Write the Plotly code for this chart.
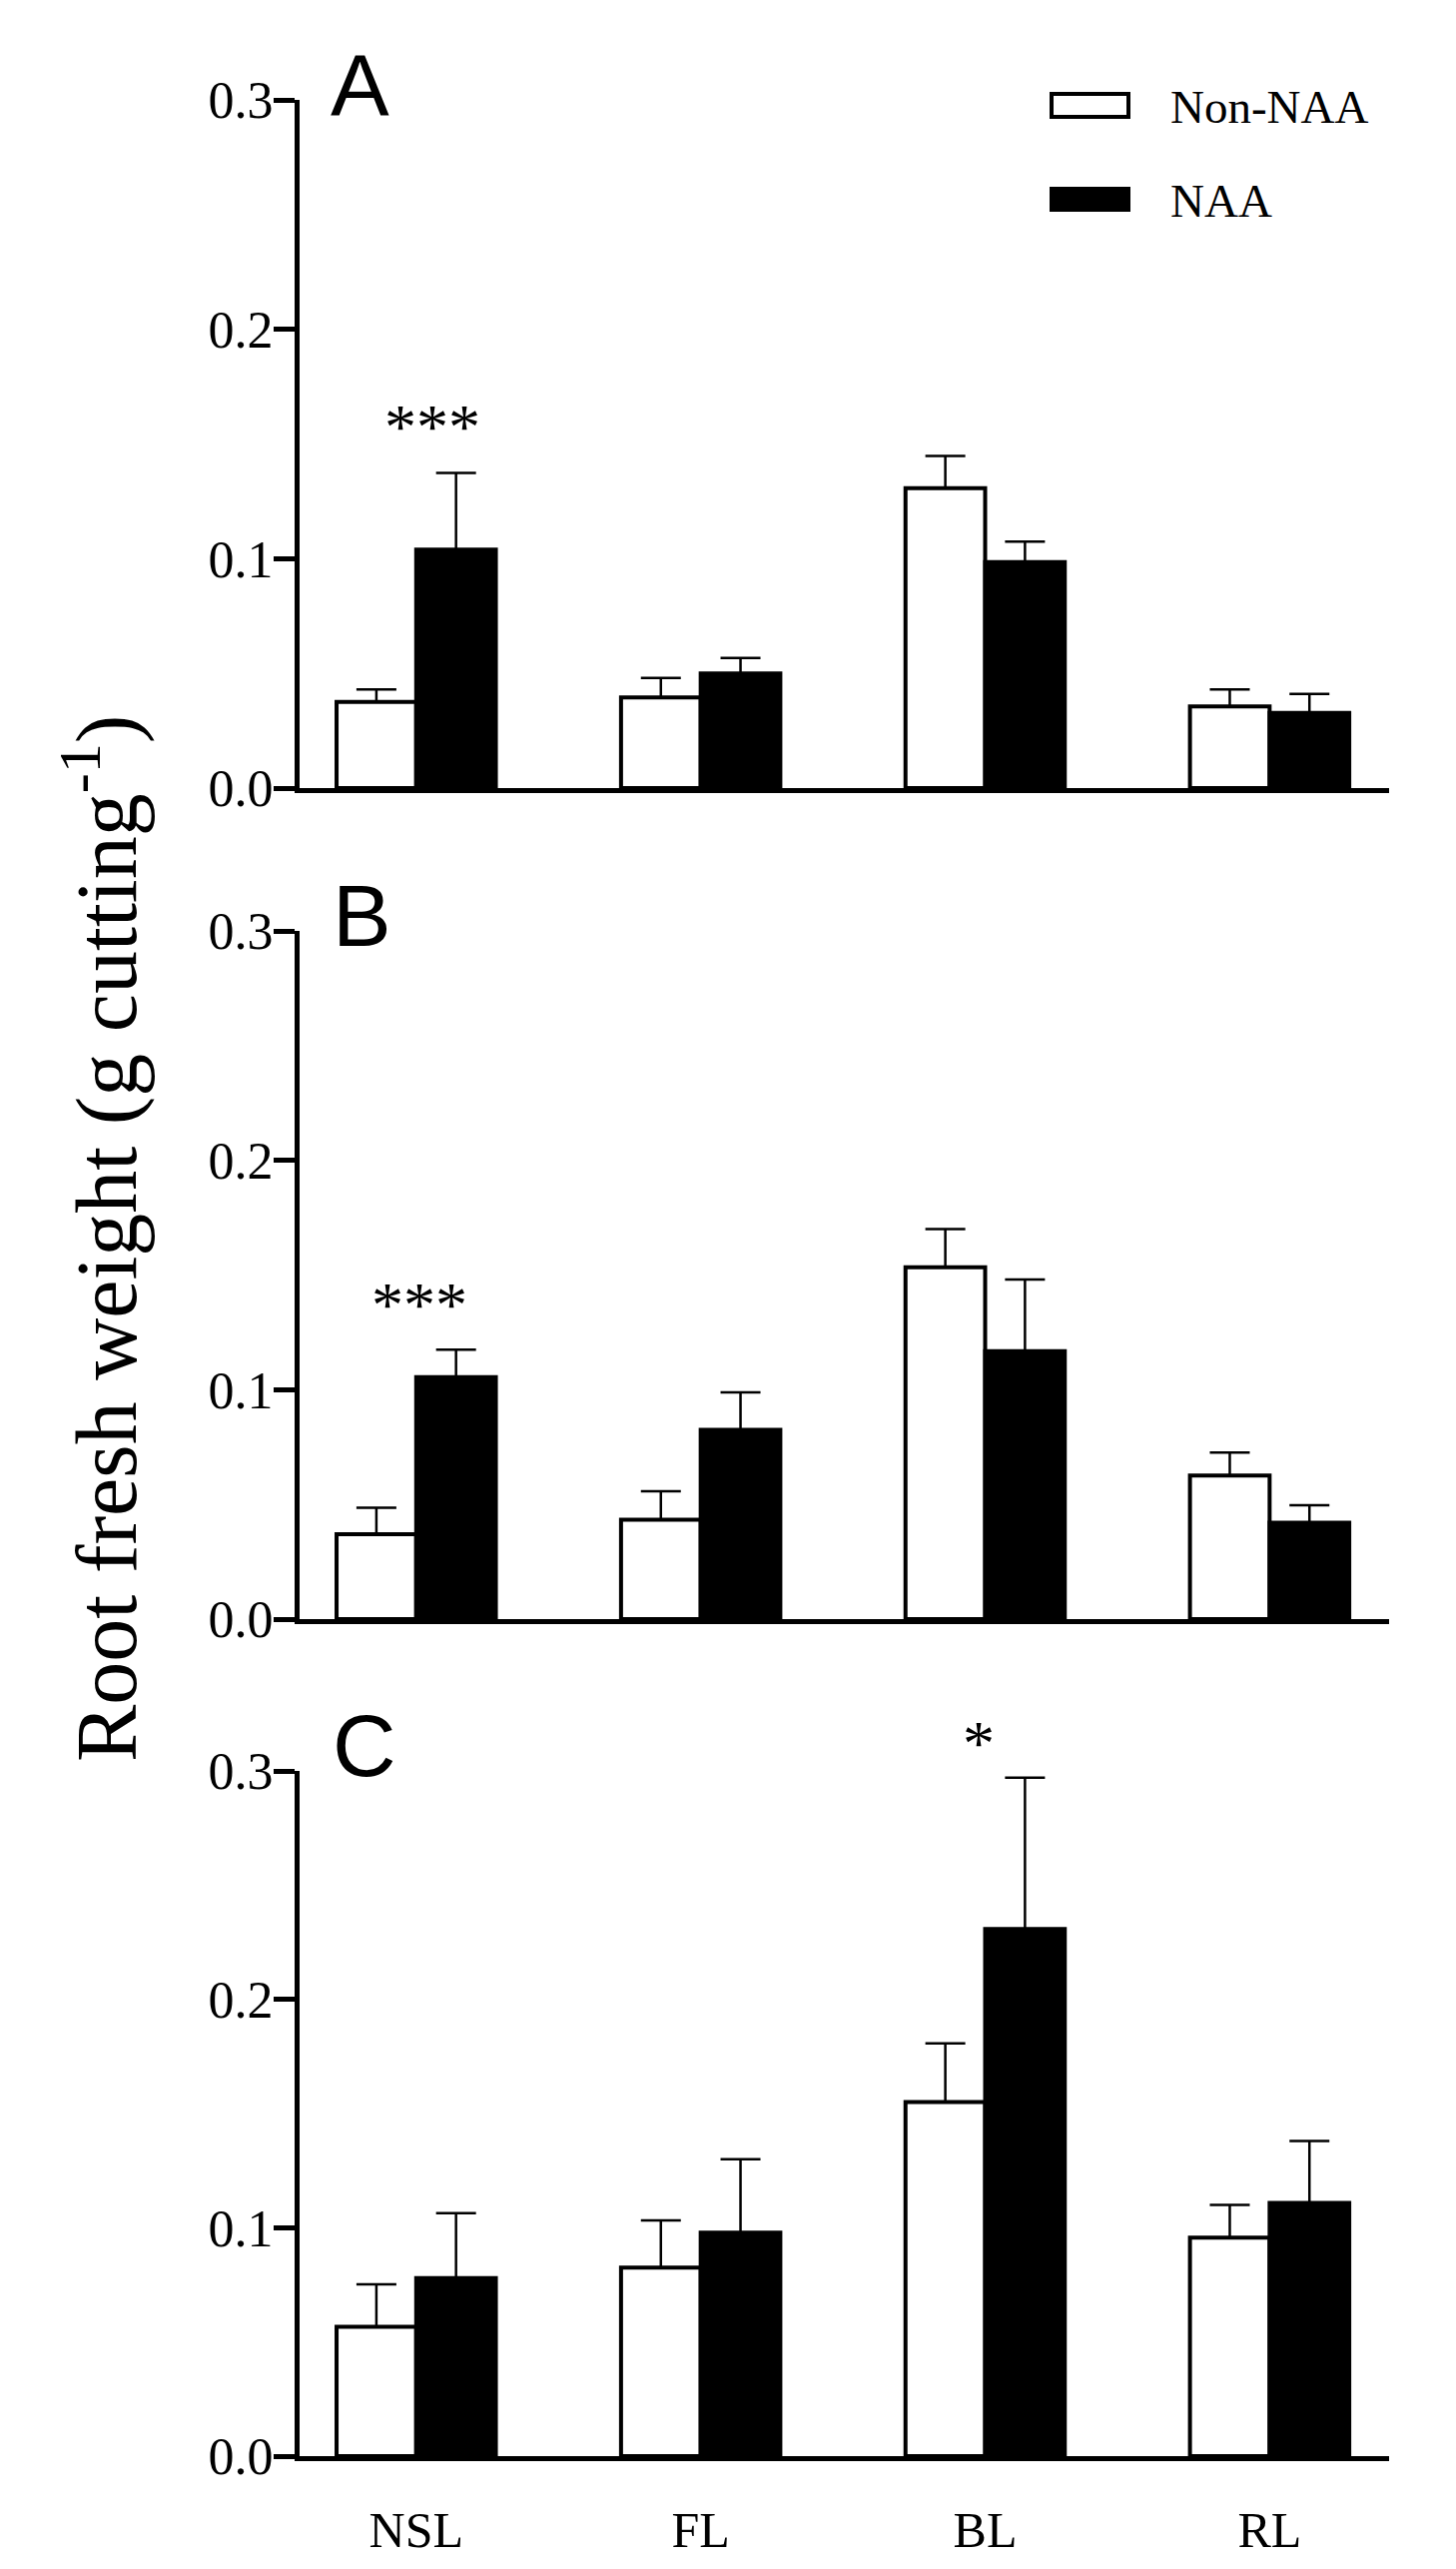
import plotly.graph_objects as go

W, H = 1458, 2572
OFF = 8  # page body margin added by the browser

categories = ["NSL", "FL", "BL", "RL"]
tick_vals = [0.0, 0.1, 0.2, 0.3]
tick_text = ["0.0", "0.1", "0.2", "0.3"]
series_names = ["Non-NAA", "NAA"]
panel_labels = ["A", "B", "C"]

# Panel A
a_non = [0.0376, 0.0395, 0.1307, 0.0356]
a_non_err = [0.0054, 0.0085, 0.0141, 0.0074]
a_naa = [0.1040, 0.0500, 0.0985, 0.0328]
a_naa_err = [0.0334, 0.0067, 0.0089, 0.0082]

# Panel B
b_non = [0.0370, 0.0433, 0.1534, 0.0626]
b_non_err = [0.0115, 0.0124, 0.0166, 0.0100]
b_naa = [0.1055, 0.0825, 0.1168, 0.0420]
b_naa_err = [0.0119, 0.0163, 0.0312, 0.0076]

# Panel C
c_non = [0.0566, 0.0825, 0.1550, 0.0957]
c_non_err = [0.0186, 0.0207, 0.0257, 0.0143]
c_naa = [0.0780, 0.0978, 0.2308, 0.1109]
c_naa_err = [0.0284, 0.0322, 0.0662, 0.0271]

# significance marks: (category, text, y value)
sig_a = ("NSL", "***", 0.1575)
sig_b = ("NSL", "***", 0.1370)
sig_c = ("BL", "*", 0.3120)

panels = [
    (a_non, a_non_err, a_naa, a_naa_err, sig_a, 16),
    (b_non, b_non_err, b_naa, b_naa_err, sig_b, 3),
    (c_non, c_non_err, c_naa, c_naa_err, sig_c, -7),
]

SERIF = "Liberation Serif, Times New Roman, serif"
SANS = "Liberation Sans, Arial, sans-serif"

def px_x(x):
    return (x - OFF) / W

def px_y(y):
    return 1 - (y - OFF) / H

# plot area in page pixels (top, bottom) for each panel
panel_px = [(100, 789), (932, 1621), (1773, 2459)]
x_dom = [px_x(300), px_x(1391)]

fig = go.Figure()

for i, (non, non_e, naa, naa_e, sig, sig_shift) in enumerate(panels):
    xa = "x" if i == 0 else f"x{i+1}"
    ya = "y" if i == 0 else f"y{i+1}"
    fig.add_trace(go.Bar(
        x=categories, y=non, name=series_names[0], xaxis=xa, yaxis=ya,
        marker=dict(color="white", line=dict(color="black", width=4)),
        error_y=dict(type="data", array=non_e, arrayminus=[0] * len(non_e), symmetric=False,
                     color="black", thickness=2.5, width=20),
        showlegend=False,
    ))
    fig.add_trace(go.Bar(
        x=categories, y=naa, name=series_names[1], xaxis=xa, yaxis=ya,
        marker=dict(color="black", line=dict(color="black", width=4)),
        error_y=dict(type="data", array=naa_e, arrayminus=[0] * len(naa_e), symmetric=False,
                     color="black", thickness=2.5, width=20),
        showlegend=False,
    ))
    top, bot = panel_px[i]
    xkey = "xaxis" if i == 0 else f"xaxis{i+1}"
    ykey = "yaxis" if i == 0 else f"yaxis{i+1}"
    fig.update_layout(**{
        xkey: dict(domain=x_dom, anchor=ya, range=[-0.41, 3.42], showline=True,
                   linewidth=5, linecolor="black", ticks="", showgrid=False, zeroline=False,
                   showticklabels=(i == 2), tickfont=dict(family=SERIF, size=50, color="black"),
                   ticklabelstandoff=26, automargin=False, fixedrange=True),
        ykey: dict(domain=[px_y(bot), px_y(top)], anchor=xa, range=[0, 0.3], showline=True,
                   linewidth=5, linecolor="black", ticks="outside", ticklen=21, tickwidth=5,
                   tickcolor="black", tickvals=tick_vals, ticktext=tick_text, showgrid=False,
                   zeroline=False, tickfont=dict(family=SERIF, size=52, color="black"),
                   ticklabelstandoff=-10, automargin=False, fixedrange=True),
    })
    # significance annotation (y in paper coords so it may sit above the axis range)
    y_paper = px_y(bot) + (px_y(top) - px_y(bot)) * sig[2] / 0.3
    fig.add_annotation(x=sig[0], y=y_paper, xref=xa, yref="paper", text=sig[1], showarrow=False,
                       xshift=sig_shift, yanchor="middle", xanchor="center",
                       font=dict(family=SERIF, size=64, color="black"))

# panel letters
letter_pos = [(360, 85), (362, 916), (365, 1747)]
for lab, (lx, ly) in zip(panel_labels, letter_pos):
    fig.add_annotation(x=px_x(lx), y=px_y(ly), xref="paper", yref="paper", text=lab,
                       showarrow=False, xanchor="center", yanchor="middle",
                       font=dict(family=SANS, size=88, color="black"))

# legend (drawn manually)
fig.add_shape(type="rect", xref="paper", yref="paper",
              x0=px_x(1053), x1=px_x(1130), y0=px_y(117), y1=px_y(94),
              line=dict(color="black", width=4), fillcolor="white")
fig.add_shape(type="rect", xref="paper", yref="paper",
              x0=px_x(1051), x1=px_x(1132), y0=px_y(212), y1=px_y(187),
              line=dict(color="black", width=0), fillcolor="black")
for name, ty in zip(series_names, [107, 201]):
    fig.add_annotation(x=px_x(1170), y=px_y(ty), xref="paper", yref="paper", text=name,
                       showarrow=False, xanchor="left", yanchor="middle",
                       font=dict(family=SERIF, size=47, color="black"))

# y-axis title
fig.add_annotation(x=px_x(100), y=px_y(1240), xref="paper", yref="paper",
                   text="Root fresh weight (g cutting<sup>-1</sup>)", textangle=-90,
                   showarrow=False, xanchor="center", yanchor="middle",
                   font=dict(family=SERIF, size=86, color="black"))

fig.update_layout(
    width=W, height=H, barmode="group", bargap=0.44, bargroupgap=0,
    plot_bgcolor="white", paper_bgcolor="white", template="none",
    margin=dict(l=0, r=0, t=0, b=0, autoexpand=False), showlegend=False,
)

fig.write_html("out.html")
